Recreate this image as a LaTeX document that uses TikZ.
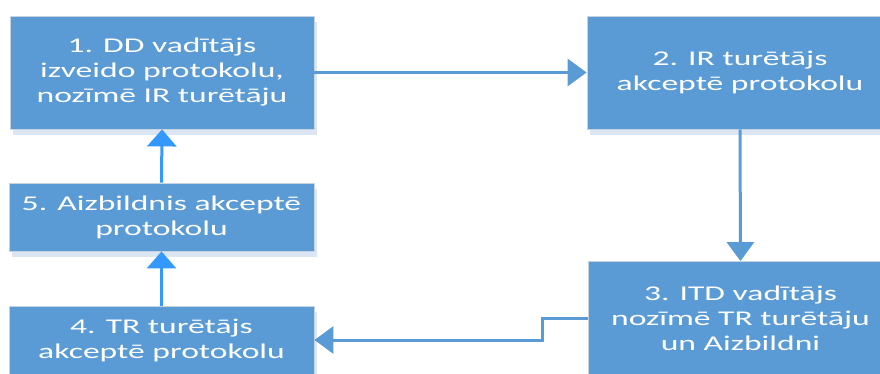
\documentclass[tikz,border=0pt]{standalone}
\usepackage{fontspec}
\setmainfont[FakeStretch=1.6]{Carlito}
\usetikzlibrary{arrows.meta,shadows}
\definecolor{boxblue}{HTML}{5B9BD5}
\definecolor{shadowblue}{HTML}{DCE6F2}
\definecolor{edgegrey}{HTML}{C8D3E0}
\definecolor{brightblue}{HTML}{3399FF}
\tikzset{
  box/.style={rectangle, fill=boxblue, draw=edgegrey, line width=0.8pt,
    text=white, align=center, inner sep=0pt,
    font=\fontsize{21pt}{25pt}\selectfont,
    general shadow={fill=shadowblue, shadow xshift=3pt, shadow yshift=-6pt}},
  arrsteel/.style={draw=boxblue, line width=3pt, -{Triangle[length=19pt,width=27pt]}},
  arrbright/.style={draw=brightblue, line width=3pt, -{Triangle[length=17pt,width=29pt]}}
}
\begin{document}
\begin{tikzpicture}[x=1pt,y=-1pt]
\useasboundingbox (0,0) rectangle (880,374);
\clip (0,0) rectangle (880,374);
\node[box, minimum width=304pt, minimum height=113pt] (b1) at (162,72.5)
  {1. DD vadītājs\\izveido protokolu,\\nozīmē IR turētāju};
\node[box, minimum width=306pt, minimum height=113pt] (b2) at (740,72.5)
  {2. IR turētājs\\akceptē protokolu};
\node[box, minimum width=305pt, minimum height=113pt] (b3) at (740.5,318)
  {3. ITD vadītājs\\nozīmē TR turētāju\\un Aizbildni};
\node[box, minimum width=305pt, minimum height=68pt] (b4) at (161.5,340)
  {4. TR turētājs\\akceptē protokolu};
\node[box, minimum width=305pt, minimum height=68pt] (b5) at (161.5,217)
  {5. Aizbildnis akceptē\\protokolu};
\draw[arrsteel] (b1.east) -- (b2.west);
\draw[arrsteel] (b2.south) -- (b3.north);
\draw[arrsteel] (b3.west) -- ++(-45,0) |- (b4.east);
\draw[arrbright] (b4.north) -- (b5.south);
\draw[arrbright] (b5.north) -- (b1.south);
\end{tikzpicture}
\end{document}
